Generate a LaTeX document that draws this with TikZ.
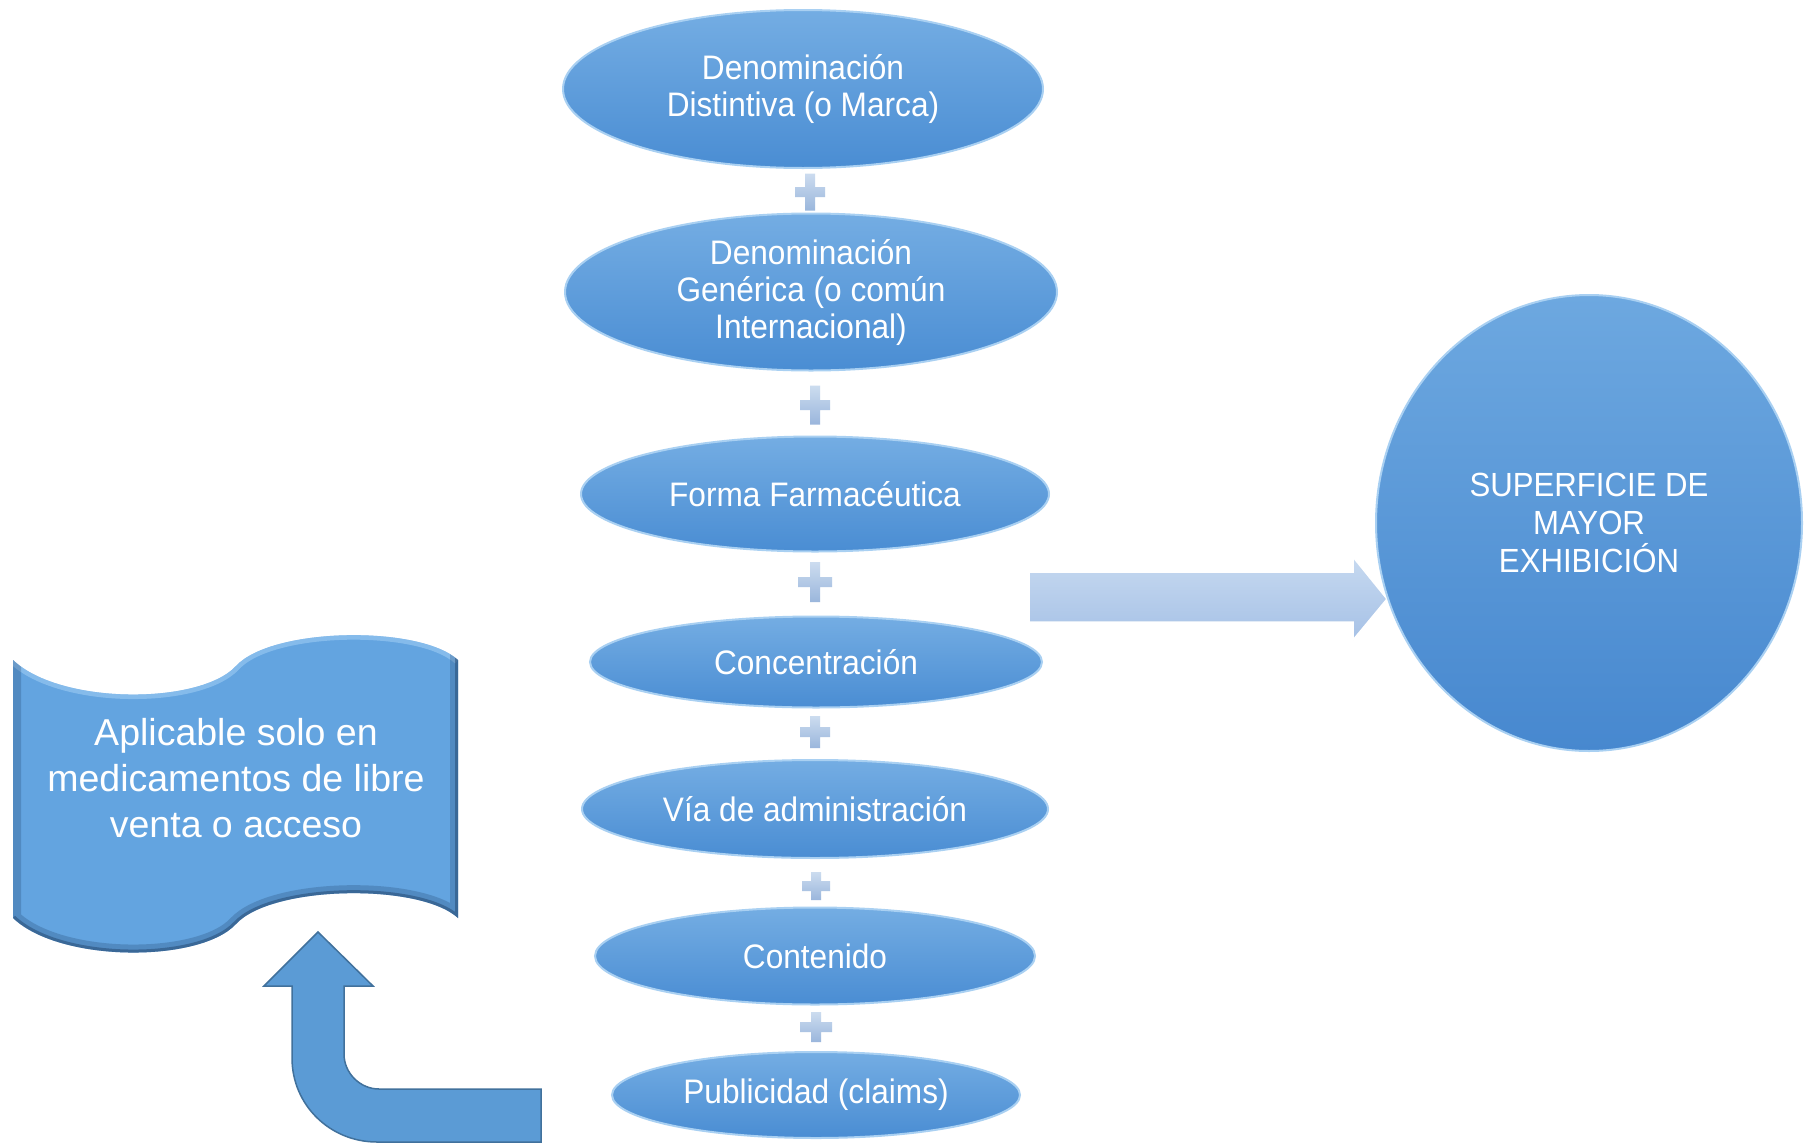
\documentclass[tikz,border=0pt]{standalone}
\usepackage{fontspec}
\setmainfont{Liberation Sans}
\newfontfamily\ellfont[FakeStretch=0.93]{Liberation Sans}
\usetikzlibrary{shapes.geometric}
\definecolor{ellTop}{HTML}{74ADE3}
\definecolor{ellBot}{HTML}{4A8DD3}
\definecolor{ellRim}{HTML}{A9D0F2}
\definecolor{cirTop}{HTML}{6DA8E0}
\definecolor{cirBot}{HTML}{4788CF}
\definecolor{bannerBlue}{HTML}{63A4E0}
\definecolor{bannerDark}{HTML}{1F3F66}
\definecolor{bannerLight}{HTML}{9CCBF3}
\definecolor{arrTop}{HTML}{C6D9F0}
\definecolor{arrBot}{HTML}{A6C1E6}
\definecolor{bentFill}{HTML}{5B9BD5}
\definecolor{bentEdge}{HTML}{41719C}
\definecolor{plusTop}{HTML}{CCDCEF}
\definecolor{plusBot}{HTML}{9AB6DC}
\begin{document}
\begin{tikzpicture}[x=1pt,y=-1pt,
  pill/.style={ellipse, inner sep=0pt, top color=ellTop, bottom color=ellBot,
    draw=ellRim, line width=2pt, text=white, align=center,
    font=\ellfont\fontsize{34}{37}\selectfont},
  bigcircle/.style={ellipse, inner sep=0pt, top color=cirTop, bottom color=cirBot,
    draw=ellRim, line width=2pt, text=white, align=center,
    font=\ellfont\fontsize{33.5}{38}\selectfont},
  bannertext/.style={text=white, align=center, font=\fontsize{37.5}{46}\selectfont}]
\useasboundingbox (0,0) rectangle (1804,1143);
\fill[white] (0,0) rectangle (1804,1143);

% right block arrow
\shade[top color=arrTop, bottom color=arrBot, draw=white, line width=1.5pt]
  (1029,572) -- (1353,572) -- (1353,557) -- (1387,599) -- (1353,640) -- (1353,622) -- (1029,622) -- cycle;

% big circle
\node[bigcircle, minimum width=426pt, minimum height=456pt] (sup) at (1589,523)
  {SUPERFICIE DE\\MAYOR\\EXHIBICIÓN};

% ellipses
\node[pill, minimum width=480pt, minimum height=158pt] (d1) at (803,89)
  {Denominación\\Distintiva (o Marca)};
\node[pill, minimum width=492pt, minimum height=157pt] (d2) at (811,292)
  {Denominación\\Genérica (o común\\Internacional)};
\node[pill, minimum width=468pt, minimum height=115pt] (d3) at (815,494)
  {Forma Farmacéutica};
\node[pill, minimum width=452pt, minimum height=91pt] (d4) at (816,662)
  {Concentración};
\node[pill, minimum width=466pt, minimum height=98pt] (d5) at (815,809)
  {Vía de administración};
\node[pill, minimum width=440pt, minimum height=97pt] (d6) at (815,956)
  {Contenido};
\node[pill, minimum width=408pt, minimum height=86pt] (d7) at (816,1095)
  {Publicidad (claims)};

% plus signs
\foreach \cx/\cy/\w/\h in {810/192/30/37, 815/405/30/39, 815/582/34/40,
                           815/732/30/32, 816/886/28/28, 816/1027/32/30} {
  \shade[top color=plusTop, bottom color=plusBot]
   ({\cx-5},{\cy-\h/2}) -- ({\cx+5},{\cy-\h/2}) -- ({\cx+5},{\cy-5}) --
   ({\cx+\w/2},{\cy-5}) -- ({\cx+\w/2},{\cy+5}) -- ({\cx+5},{\cy+5}) --
   ({\cx+5},{\cy+\h/2}) -- ({\cx-5},{\cy+\h/2}) -- ({\cx-5},{\cy+5}) --
   ({\cx-\w/2},{\cy+5}) -- ({\cx-\w/2},{\cy-5}) -- ({\cx-5},{\cy-5}) -- cycle;
}

% wave banner
\fill[bannerBlue] (13,660) .. controls (60,705) and (200,705) .. (236,666)
  .. controls (272,627) and (420,625) .. (458,660) -- (458,918)
  .. controls (420,883) and (272,885) .. (236,924)
  .. controls (200,963) and (60,963) .. (13,918) -- cycle;
\begin{scope}
\clip (13,660) .. controls (60,705) and (200,705) .. (236,666)
  .. controls (272,627) and (420,625) .. (458,660) -- (458,918)
  .. controls (420,883) and (272,885) .. (236,924)
  .. controls (200,963) and (60,963) .. (13,918) -- cycle;
\draw[bannerLight, line width=9pt, opacity=0.6] (13,660) .. controls (60,705) and (200,705) .. (236,666)
  .. controls (272,627) and (420,625) .. (458,660);
\draw[bannerDark, line width=16pt, opacity=0.25] (458,640) -- (458,918)
  .. controls (420,883) and (272,885) .. (236,924)
  .. controls (200,963) and (60,963) .. (13,918) -- (13,640);
\draw[bannerDark, line width=6pt, opacity=0.45] (458,640) -- (458,918)
  .. controls (420,883) and (272,885) .. (236,924)
  .. controls (200,963) and (60,963) .. (13,918);
\end{scope}
\node[bannertext] (banner) at (236,778)
  {Aplicable solo en\\medicamentos de libre\\venta o acceso};

% bent arrow from Publicidad up to the banner
\filldraw[fill=bentFill, draw=bentEdge, line width=1.5pt, line join=miter]
  (541,1089) -- (379,1089) .. controls (360,1089) and (344,1073) .. (344,1054)
  -- (344,986) -- (373,986) -- (318,932) -- (264,986) -- (292,986) -- (292,1058)
  .. controls (292,1105) and (330,1142) .. (377,1142) -- (541,1142) -- cycle;
\end{tikzpicture}
\end{document}
